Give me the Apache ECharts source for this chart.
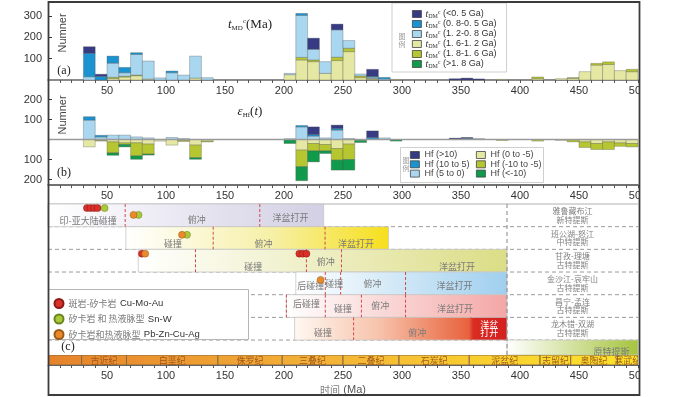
<!DOCTYPE html>
<html>
<head>
<meta charset="utf-8">
<script src="https://cdn.jsdelivr.net/npm/echarts@6/dist/echarts.min.js"></script>
<style>
html, body { margin: 0; padding: 0; background: #fff; }
#main { width: 700px; height: 397px; }
</style>
</head>
<body>
<div id="main"></div>
<script>
// ---- data ----
// left edge of each 10 Ma bin
var binStart = [0, 10, 20, 30, 40, 50, 60, 70, 80, 90, 100, 110, 120, 130, 140, 150, 160, 170, 180, 190,
    200, 210, 220, 230, 240, 250, 260, 270, 280, 290, 300, 310, 320, 330, 340, 350, 360, 370, 380, 390,
    400, 410, 420, 430, 440, 450, 460, 470, 480, 490];

// (a) tDM^c counts per bin
var tdmNames = ['(<0. 5 Ga)', '(0. 8-0. 5 Ga)', '(1. 2-0. 8 Ga)', '(1. 6-1. 2 Ga)', '(1. 8-1. 6 Ga)', '(>1. 8 Ga)'];
var tdmLt05 = [0,0,0,31,10,0,0,0,0,0, 0,0,0,0,0,0,0,0,0,0, 0,0,52,0,27,0,0,33,0,0, 0,0,0,0,6,9,5,0,0,0, 0,0,0,0,0,0,0,0,0,0];
var tdm08_05 = [0,0,0,110,17,33,25,8,0,0, 8,0,0,0,0,0,0,0,0,0, 0,9,0,0,0,0,0,4,7,0, 0,0,0,0,0,0,0,0,0,0, 0,0,0,0,0,0,0,0,0,0];
var tdm12_08 = [0,0,0,15,0,66,16,97,85,10, 34,23,103,11,0,0,0,0,0,0, 6,197,50,55,128,36,9,6,5,0, 0,0,0,0,0,0,0,0,0,0, 0,0,0,0,0,0,0,0,0,0];
var tdm16_12 = [0,0,0,0,0,7,14,20,4,0, 0,0,9,0,0,0,0,0,0,0, 25,94,86,31,91,133,11,4,0,3, 0,0,0,0,0,0,0,0,3,0, 0,6,0,6,8,39,70,73,44,39];
var tdm18_16 = [0,0,0,0,0,6,4,3,0,0, 0,0,0,0,0,0,0,0,0,0, 0,12,8,0,16,16,8,3,0,0, 0,0,0,0,0,0,0,0,0,0, 0,8,0,0,3,0,8,12,0,11];
var tdmGt18 = [0,0,0,0,0,0,0,0,0,0, 0,0,0,0,0,0,0,0,0,0, 0,0,0,0,0,0,0,0,0,0, 0,0,0,0,0,0,0,0,0,0, 0,0,0,0,0,0,0,0,0,0];

// (b) eHf(t) counts per bin (negative classes drawn below zero)
var hfNames = ['Hf (>10)', 'Hf (10 to 5)', 'Hf (5 to 0)', 'Hf (0 to -5)', 'Hf (-10 to -5)', 'Hf (<-10)'];
var hfGt10 = [0,0,0,0,0,0,0,0,0,0, 0,0,0,0,0,0,0,0,0,0, 0,0,38,0,17,0,0,33,0,0, 0,0,0,0,7,4,0,0,0,0, 0,0,0,0,0,0,0,0,0,0];
var hf10_5 = [0,0,0,17,8,0,0,0,0,0, 0,0,0,0,0,0,0,0,0,0, 0,7,8,0,8,0,0,10,0,0, 0,0,0,0,0,6,0,0,0,0, 0,0,0,0,0,0,0,0,0,0];
var hf5_0 = [0,0,0,97,13,22,22,13,8,0, 10,5,0,0,0,0,0,0,0,0, 4,63,17,8,47,5,0,0,8,0, 0,0,0,0,0,0,5,0,0,0, 0,0,0,0,0,0,0,0,0,0];
var hf0_m5 = [0,0,0,37,5,12,17,17,23,8, 28,5,28,8,0,0,0,0,0,0, 0,53,20,25,45,23,5,0,0,0, 0,0,0,0,0,0,0,0,0,0, 0,0,0,5,2,12,20,12,17,20];
var hfm5_m10 = [0,0,0,0,3,55,8,65,50,0, 0,5,63,4,0,0,0,0,0,0, 2,83,37,32,58,77,0,0,0,0, 0,0,0,0,0,0,0,0,5,0, 0,8,0,0,10,28,30,38,17,17];
var hfLtm10 = [0,0,0,0,0,12,12,17,5,0, 0,0,8,0,0,0,0,0,0,0, 18,70,55,13,50,53,10,0,0,8, 0,0,0,0,0,0,0,0,0,0, 0,0,0,0,0,0,0,0,0,0];

// (c) tectonic belts
var beltNames = ['雅鲁藏布江\n新特提斯', '班公湖-怒江\n中特提斯', '甘孜-理塘\n古特提斯', '金沙江-哀牢山\n古特提斯', '昌宁-孟连\n古特提斯', '龙木错-双湖\n古特提斯'];
var beltStart = [0, 66, 76.5, 210, 202, 209, 389];
var beltEnd = [233.6, 288.6, 389, 389, 389, 389, 500];
var phaseBreaks = [[65.4, 179.5], [140, 234.8], [125, 219, 248.7], [235, 248, 303], [202, 235, 265.6, 303], [259, 358.5], []];
var phaseText = [['印-亚大陆碰撞', '俯冲', '洋盆打开'], ['碰撞', '俯冲', '洋盆打开'], ['碰撞', '俯冲', '洋盆打开'],
    ['后碰撞', '碰撞', '俯冲', '洋盆打开'], ['后碰撞', '碰撞', '俯冲', '洋盆打开'], ['碰撞', '俯冲', '洋盆\n打开'], ['原特提斯']];
var phaseAge = [[34, 126, 205.6], [106, 182.7, 261], [174, 235.3, 346.7], [222.6, 242.6, 275, 344.5],
    [219, 250, 281.6, 345], [233, 313, 374], [477.5]];

// ore deposits
var depositNames = ['斑岩-矽卡岩 Cu-Mo-Au', '矽卡岩 和 热液脉型 Sn-W', '矽卡岩和热液脉型 Pb-Zn-Cu-Ag'];
var depositAge = [33, 36, 39, 42, 48, 72.5, 76.7, 113.6, 117.8, 79.6, 82.4, 213, 216, 219, 231];
var depositBelt = [0, 0, 0, 0, 0, 0, 0, 1, 1, 2, 2, 2, 2, 2, 3];
var depositType = [0, 0, 0, 0, 1, 2, 1, 2, 1, 0, 2, 0, 0, 0, 2];

// geologic periods
var periodNames = ['', '古近纪', '白垩纪', '侏罗纪', '三叠纪', '二叠纪', '石炭纪', '泥盆纪', '志留纪', '奥陶纪', '寒武纪'];
var periodStart = [0, 28.5, 66.5, 144, 198.5, 250, 297.5, 357, 417, 443, 482.5];
var periodEnd = [28.5, 66.5, 144, 198.5, 250, 297.5, 357, 417, 443, 482.5, 500];

// ---- layout / style ----
var C = { navy: '#363b84', blue: '#1b93d0', light: '#a9d7ef', yellow: '#e5e8a2', olive: '#b6c631', green: '#0f9a4c' };
var ROW_MAX = 6.66;
var NAME_COL = 389;
var phaseLift = [[0.74, 0.7, 0.62], [0.76, 0.76, 0.74], [0.75, 0.53, 0.75], [0.62, 0.53, 0.53, 0.62],
    [0.4, 0.62, 0.47, 0.62], [0.68, 0.68, 0.5], [0.5]];
var dotLift = [0.18, 0.18, 0.18, 0.18, 0.18, 0.48, 0.48, 0.36, 0.36, 0.19, 0.19, 0.19, 0.19, 0.19, 0.35];
var beltColors = [
    [{offset: 0, color: '#ffffff'}, {offset: 1, color: '#d3cfe4'}],
    [{offset: 0, color: '#ffffff'}, {offset: 0.55, color: '#f6f0a8'}, {offset: 1, color: '#f7df1c'}],
    [{offset: 0, color: '#ffffff'}, {offset: 1, color: '#dcdd86'}],
    [{offset: 0, color: '#ffffff'}, {offset: 1, color: '#9fcfee'}],
    [{offset: 0, color: '#ffffff'}, {offset: 1, color: '#f3a7a6'}],
    [{offset: 0, color: '#fff8f2'}, {offset: 0.4, color: '#f7c2aa'}, {offset: 0.82, color: '#e8623c'}, {offset: 0.84, color: '#da2c22'}, {offset: 1, color: '#d42020'}],
    [{offset: 0, color: '#ffffff'}, {offset: 1, color: '#a6c43e'}]
];
var depositColors = ['#d9302a', '#a9c83a', '#e88a2a'];
var depositBorders = ['#8a1a16', '#6a8420', '#9a5a16'];
var CJK = '"Noto Sans CJK SC"';
var SANS = '"Liberation Sans", Arial';
var SERIF = '"Liberation Serif", serif';

function stackData(lists, sign) {
    var base = binStart.map(function () { return 0; });
    return lists.map(function (vals) {
        var out = [];
        vals.forEach(function (v, i) {
            if (v > 0) {
                var a = sign * base[i], b = sign * (base[i] + v);
                out.push([binStart[i], binStart[i] + 10, Math.min(a, b), Math.max(a, b)]);
            }
            base[i] += v;
        });
        return out;
    });
}

function barItem(params, api) {
    var tl = api.coord([api.value(0), api.value(3)]);
    var br = api.coord([api.value(1), api.value(2)]);
    return {
        type: 'rect',
        shape: { x: tl[0], y: tl[1], width: br[0] - tl[0], height: br[1] - tl[1] },
        style: { fill: api.visual('color'), stroke: 'rgba(80,80,80,0.45)', lineWidth: 0.7 }
    };
}

var series = [];

// panel (a): bottom to top
var aLists = [tdm16_12, tdm18_16, tdmGt18, tdm12_08, tdm08_05, tdmLt05];
var aNames = [tdmNames[3], tdmNames[4], tdmNames[5], tdmNames[2], tdmNames[1], tdmNames[0]];
var aColors = [C.yellow, C.olive, C.green, C.light, C.blue, C.navy];
stackData(aLists, 1).forEach(function (d, k) {
    series.push({
        type: 'custom', name: aNames[k], xAxisIndex: 0, yAxisIndex: 0,
        itemStyle: { color: aColors[k] }, renderItem: barItem,
        encode: { x: [0, 1], y: [2, 3] }, data: d
    });
});

// panel (b): positive up, negative down
var upData = stackData([hf5_0, hf10_5, hfGt10], 1);
var upNames = [hfNames[2], hfNames[1], hfNames[0]];
var upColors = [C.light, C.blue, C.navy];
upData.forEach(function (d, k) {
    series.push({
        type: 'custom', name: upNames[k], xAxisIndex: 1, yAxisIndex: 1,
        itemStyle: { color: upColors[k] }, renderItem: barItem,
        encode: { x: [0, 1], y: [2, 3] }, data: d
    });
});
var downData = stackData([hf0_m5, hfm5_m10, hfLtm10], -1);
var downNames = [hfNames[3], hfNames[4], hfNames[5]];
var downColors = [C.yellow, C.olive, C.green];
downData.forEach(function (d, k) {
    series.push({
        type: 'custom', name: downNames[k], xAxisIndex: 1, yAxisIndex: 1,
        itemStyle: { color: downColors[k] }, renderItem: barItem,
        encode: { x: [0, 1], y: [2, 3] }, data: d
    });
});
series.push({
    type: 'line', xAxisIndex: 1, yAxisIndex: 1, data: [[0, 0], [500, 0]], symbol: 'none', z: 3,
    silent: true, lineStyle: { color: '#9a9a9a', width: 1.5 }
});

// panel (c): row separators
series.push({
    type: 'custom', xAxisIndex: 2, yAxisIndex: 2, silent: true, z: 1,
    data: [[0], [1], [2], [3], [4], [5], [6]],
    renderItem: function (params, api) {
        var r = api.value(0);
        var a = api.coord([0, r]), b = api.coord([500, r]);
        return {
            type: 'line', shape: { x1: a[0], y1: a[1], x2: b[0], y2: b[1] },
            style: { stroke: r === 0 ? '#b0b0b0' : '#9a9a9a', lineWidth: 1, lineDash: r === 0 ? null : [4, 3] }
        };
    }
});
series.push({
    type: 'custom', xAxisIndex: 2, yAxisIndex: 2, silent: true, z: 4,
    data: [[NAME_COL, 0, ROW_MAX]],
    renderItem: function (params, api) {
        var a = api.coord([api.value(0), api.value(1)]), b = api.coord([api.value(0), api.value(2)]);
        return {
            type: 'line', shape: { x1: a[0], y1: a[1], x2: b[0], y2: b[1] },
            style: { stroke: '#888', lineWidth: 1, lineDash: [4, 3] }
        };
    }
});
// belts
series.push({
    type: 'custom', xAxisIndex: 2, yAxisIndex: 2, silent: true, z: 2,
    data: beltStart.map(function (s, r) { return [r, s, beltEnd[r]]; }),
    renderItem: function (params, api) {
        var r = api.value(0);
        var tl = api.coord([api.value(1), r]);
        var br = api.coord([api.value(2), Math.min(r + 1, ROW_MAX)]);
        return {
            type: 'rect',
            shape: { x: tl[0], y: tl[1], width: br[0] - tl[0], height: br[1] - tl[1] },
            style: { fill: new echarts.graphic.LinearGradient(0, 0, 1, 0, beltColors[r]), stroke: '#c6c6c6', lineWidth: 0.8 }
        };
    }
});
// phase boundaries
var breakData = [];
phaseBreaks.forEach(function (list, r) { list.forEach(function (a) { breakData.push([r, a]); }); });
series.push({
    type: 'custom', xAxisIndex: 2, yAxisIndex: 2, silent: true, z: 3,
    data: breakData,
    renderItem: function (params, api) {
        var r = api.value(0), x = api.value(1);
        var a = api.coord([x, r]), b = api.coord([x, r + 1]);
        return {
            type: 'line', shape: { x1: a[0], y1: a[1], x2: b[0], y2: b[1] },
            style: { stroke: '#d2494a', lineWidth: 1, lineDash: [3, 2] }
        };
    }
});
// phase labels
var labelData = [], labelText = [];
phaseAge.forEach(function (list, r) {
    list.forEach(function (a, j) {
        labelData.push([a, r + phaseLift[r][j]]);
        labelText.push(phaseText[r][j]);
    });
});
series.push({
    type: 'custom', xAxisIndex: 2, yAxisIndex: 2, silent: true, z: 4,
    data: labelData,
    renderItem: function (params, api) {
        var p = api.coord([api.value(0), api.value(1)]);
        var t = labelText[params.dataIndex];
        return {
            type: 'text', x: p[0], y: p[1],
            style: {
                text: t, fill: t.indexOf('\n') >= 0 ? '#ffffff' : '#7a7a7a', fontSize: 9, fontFamily: CJK,
                align: 'center', verticalAlign: 'middle', lineHeight: 8
            }
        };
    }
});
// belt names
series.push({
    type: 'custom', xAxisIndex: 2, yAxisIndex: 2, silent: true, z: 4,
    data: beltNames.map(function (n, r) { return [(NAME_COL + 500) / 2, r + 0.5]; }),
    renderItem: function (params, api) {
        var p = api.coord([api.value(0), api.value(1)]);
        return {
            type: 'text', x: p[0], y: p[1],
            style: {
                text: beltNames[params.dataIndex], fill: '#808080', fontSize: 8, fontFamily: CJK,
                align: 'center', verticalAlign: 'middle', lineHeight: 8.5
            }
        };
    }
});
// deposits
depositNames.forEach(function (name, t) {
    var d = [];
    depositAge.forEach(function (a, i) {
        if (depositType[i] === t) d.push([a, depositBelt[i] + dotLift[i]]);
    });
    series.push({
        type: 'scatter', name: name, xAxisIndex: 2, yAxisIndex: 2, z: 5, silent: true,
        symbol: 'circle', symbolSize: 7, data: d,
        itemStyle: { color: depositColors[t], borderColor: depositBorders[t], borderWidth: 0.5, opacity: 1 }
    });
});

// geologic time band
series.push({
    type: 'custom', xAxisIndex: 3, yAxisIndex: 3, silent: true, clip: true,
    data: periodStart.map(function (s, i) { return [s, periodEnd[i]]; }),
    renderItem: function (params, api) {
        var tl = api.coord([api.value(0), 1]), br = api.coord([api.value(1), 0]);
        var x0 = api.coord([0, 0])[0], x1 = api.coord([500, 0])[0];
        var grad = new echarts.graphic.LinearGradient(x0, 0, x1, 0, [
            {offset: 0, color: '#e6822b'}, {offset: 0.45, color: '#f3b138'},
            {offset: 0.75, color: '#f9d02f'}, {offset: 1, color: '#fce42a'}], true);
        return {
            type: 'group',
            children: [{
                type: 'rect',
                shape: { x: tl[0], y: tl[1], width: br[0] - tl[0], height: br[1] - tl[1] },
                style: { fill: grad, stroke: '#8a6a3c', lineWidth: 1 }
            }, {
                type: 'text', x: (tl[0] + br[0]) / 2, y: (tl[1] + br[1]) / 2 + 0.5,
                style: {
                    text: periodNames[params.dataIndex], fill: '#a0581e', fontSize: 9, fontFamily: CJK,
                    align: 'center', verticalAlign: 'middle'
                }
            }]
        };
    }
});

function xAxisCfg(grid, showLabels, lineColor) {
    return {
        type: 'value', gridIndex: grid, min: 0, max: 500, interval: 50, position: 'bottom',
        show: showLabels !== null,
        axisLine: { show: true, onZero: false, lineStyle: { color: lineColor, width: 1.5 } },
        axisTick: { show: true, length: 3, lineStyle: { color: '#555' } },
        minorTick: { show: true, splitNumber: 5, length: 3, lineStyle: { color: '#555' } },
        splitLine: { show: false },
        axisLabel: {
            margin: 5, fontSize: 11, color: '#333', fontFamily: SANS,
            formatter: function (v) { return v === 0 ? '' : v; }
        }
    };
}

var xAxes = [xAxisCfg(0, true, '#666'), xAxisCfg(1, true, '#444'), { type: 'value', gridIndex: 2, min: 0, max: 500, show: false }, xAxisCfg(3, true, '#666')];
xAxes[3].name = '{c|时间} {e|(Ma)}';
xAxes[3].nameLocation = 'middle';
xAxes[3].nameGap = 19;
xAxes[3].nameTextStyle = {
    rich: {
        c: { fontFamily: CJK, fontSize: 10, color: '#808080' },
        e: { fontFamily: SANS, fontSize: 11, color: '#555' }
    }
};
xAxes[3].axisLine.lineStyle.width = 1;

var option = {
    animation: false,
    backgroundColor: '#ffffff',
    grid: [
        { left: 48, width: 590, top: 3.2, height: 76.8 },
        { left: 48, width: 590, top: 99.5, height: 85.6 },
        { left: 48, width: 590, top: 204, height: 151 },
        { left: 48, width: 590, top: 355, height: 12 }
    ],
    xAxis: xAxes,
    yAxis: [
        {
            type: 'value', gridIndex: 0, min: 0, max: 360,
            axisLine: { show: false }, splitLine: { show: false },
            axisTick: { show: true, inside: true, length: 4, customValues: [100, 200, 300], lineStyle: { color: '#333' } },
            axisLabel: { margin: 6, fontSize: 11, color: '#333', fontFamily: SANS, customValues: [100, 200, 300] }
        },
        {
            type: 'value', gridIndex: 1, min: -228, max: 200,
            axisLine: { show: false }, splitLine: { show: false },
            axisTick: { show: true, inside: true, length: 4, customValues: [-200, -100, 100, 200], lineStyle: { color: '#333' } },
            axisLabel: {
                margin: 6, fontSize: 11, color: '#333', fontFamily: SANS, customValues: [-200, -100, 100, 200],
                formatter: function (v) { return Math.abs(v); }
            }
        },
        { type: 'value', gridIndex: 2, min: 0, max: ROW_MAX, inverse: true, show: false },
        { type: 'value', gridIndex: 3, min: 0, max: 1, show: false }
    ],
    legend: [
        {
            data: tdmNames, orient: 'vertical', left: 392, top: 3, padding: [6, 10, 3, 20],
            itemWidth: 9, itemHeight: 7, itemGap: 0, icon: 'rect', selectedMode: false,
            backgroundColor: '#fff', borderColor: '#cfcfcf', borderWidth: 1,
            itemStyle: { borderColor: '#444', borderWidth: 0.8 },
            formatter: function (n) { return '{t|t}{s|DM}{p|c}{n| ' + n + '}'; },
            textStyle: {
                padding: [0, 0, 0, -1],
                rich: {
                    t: { fontFamily: SERIF, fontStyle: 'italic', fontSize: 10, color: '#333', lineHeight: 10 },
                    s: { fontFamily: SERIF, fontSize: 6, color: '#333', verticalAlign: 'bottom', lineHeight: 10 },
                    p: { fontFamily: SERIF, fontSize: 6, color: '#333', verticalAlign: 'top', lineHeight: 10 },
                    n: { fontFamily: SANS, fontSize: 9, color: '#333', lineHeight: 10 }
                }
            }
        },
        {
            data: hfNames.slice(0, 3), orient: 'vertical', left: 410, top: 150.5, padding: 0,
            itemWidth: 9, itemHeight: 7, itemGap: 0.3, icon: 'rect', selectedMode: false,
            itemStyle: { borderColor: '#444', borderWidth: 0.8 },
            textStyle: { fontFamily: SANS, fontSize: 9, color: '#444', lineHeight: 9 }
        },
        {
            data: hfNames.slice(3), orient: 'vertical', left: 476, top: 150.5, padding: 0,
            itemWidth: 9, itemHeight: 7, itemGap: 0.3, icon: 'rect', selectedMode: false,
            itemStyle: { borderColor: '#444', borderWidth: 0.8 },
            textStyle: { fontFamily: SANS, fontSize: 9, color: '#444', lineHeight: 9 }
        },
        {
            data: depositNames, orient: 'vertical', left: 53.5, top: 297.5, padding: 0,
            itemWidth: 9, itemHeight: 9, itemGap: 3.5, icon: 'circle', selectedMode: false,
            formatter: function (n) {
                var k = n.lastIndexOf(' ');
                return '{c|' + n.slice(0, k) + '} {e|' + n.slice(k + 1) + '}';
            },
            textStyle: {
                rich: {
                    c: { fontFamily: CJK, fontSize: 9, color: '#7a7a7a', lineHeight: 11 },
                    e: { fontFamily: SANS, fontSize: 9.5, color: '#333', lineHeight: 11 }
                }
            }
        }
    ],
    graphic: [
        { type: 'rect', z: 3, shape: { x: 400.5, y: 147.5, width: 143, height: 35 }, style: { fill: '#fff', stroke: '#cfcfcf', lineWidth: 1 } },
        { type: 'rect', z: 3, shape: { x: 48.5, y: 289.5, width: 200, height: 50 }, style: { fill: '#fff', stroke: '#b5b5b5', lineWidth: 1 } },
        { type: 'text', z: 6, x: 402, y: 40, style: { text: '图\n例', fill: '#999', fontSize: 7, fontFamily: CJK, align: 'center', verticalAlign: 'middle', lineHeight: 8 } },
        { type: 'text', z: 6, x: 406, y: 164.5, style: { text: '图\n例', fill: '#999', fontSize: 7, fontFamily: CJK, align: 'center', verticalAlign: 'middle', lineHeight: 8 } },
        { type: 'text', z: 6, x: 63, y: 33, rotation: Math.PI / 2, style: { text: 'Numner', fill: '#444', fontSize: 11, fontFamily: SANS, align: 'center', verticalAlign: 'middle' } },
        { type: 'text', z: 6, x: 63, y: 115, rotation: Math.PI / 2, style: { text: 'Numner', fill: '#444', fontSize: 11, fontFamily: SANS, align: 'center', verticalAlign: 'middle' } },
        { type: 'text', z: 6, x: 64, y: 71, style: { text: '(a)', fill: '#222', fontSize: 12, fontFamily: SERIF, align: 'center', verticalAlign: 'middle' } },
        { type: 'text', z: 6, x: 64, y: 173, style: { text: '(b)', fill: '#222', fontSize: 12, fontFamily: SERIF, align: 'center', verticalAlign: 'middle' } },
        { type: 'text', z: 6, x: 68, y: 347, style: { text: '(c)', fill: '#222', fontSize: 12, fontFamily: SERIF, align: 'center', verticalAlign: 'middle' } },
        {
            type: 'text', z: 6, x: 250, y: 25,
            style: {
                text: '{t|t}{s|MD}{p|c}{n|(Ma)}', align: 'center', verticalAlign: 'middle',
                rich: {
                    t: { fontFamily: SERIF, fontStyle: 'italic', fontSize: 13, fill: '#222', lineHeight: 14 },
                    s: { fontFamily: SERIF, fontSize: 7, fill: '#222', verticalAlign: 'bottom', lineHeight: 14 },
                    p: { fontFamily: SERIF, fontSize: 7, fill: '#222', verticalAlign: 'top', lineHeight: 14 },
                    n: { fontFamily: SERIF, fontSize: 13, fill: '#222', lineHeight: 14 }
                }
            }
        },
        {
            type: 'text', z: 6, x: 250, y: 112,
            style: {
                text: '{t|ε}{s|Hf}{n|(}{t|t}{n|)}', align: 'center', verticalAlign: 'middle',
                rich: {
                    t: { fontFamily: SERIF, fontStyle: 'italic', fontSize: 13, fill: '#222', lineHeight: 14 },
                    s: { fontFamily: SERIF, fontSize: 7, fill: '#222', verticalAlign: 'bottom', lineHeight: 14 },
                    n: { fontFamily: SERIF, fontSize: 13, fill: '#222', lineHeight: 14 }
                }
            }
        },
        { type: 'rect', z: 9, shape: { x: 640, y: 0, width: 60, height: 397 }, style: { fill: '#fff' } },
        { type: 'rect', z: 10, shape: { x: 48.5, y: 2, width: 591, height: 393 }, style: { fill: 'none', stroke: '#3c3c3c', lineWidth: 1.8 } }
    ],
    series: series
};

var chart = echarts.init(document.getElementById('main'));
chart.setOption(option);
</script>
</body>
</html>
